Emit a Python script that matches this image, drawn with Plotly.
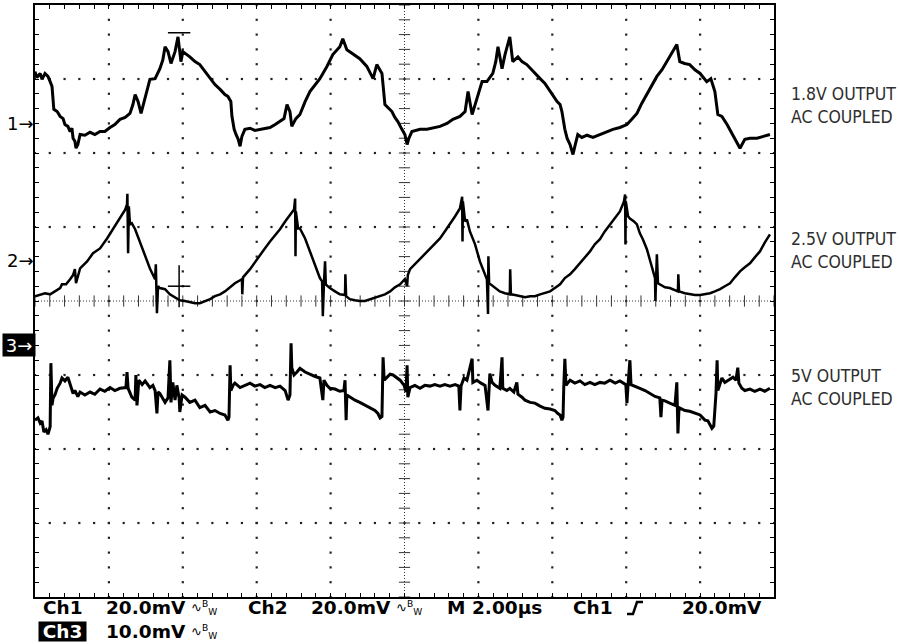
import numpy as np
import plotly.graph_objects as go

# ---- scope settings ----
time_per_div = 2.0          # µs / div, 10 divisions
ch1_scale = 20.0            # mV / div
ch2_scale = 20.0
ch3_scale = 10.0
ch1_pos = 2.40              # ground-marker position, divisions from centre
ch2_pos = 0.55
ch3_pos = -0.60

# ---- channel 1 : 1.8V output (µs, mV) ----
ch1_t = [0.00, 0.05, 0.14, 0.19, 0.27, 0.35, 0.41, 0.46, 0.51, 0.60, 0.68, 0.76, 0.81, 0.89, 0.95, 1.00,
         1.03, 1.08, 1.11, 1.16, 1.22, 1.35, 1.49, 1.62, 1.76, 1.89, 2.03, 2.16, 2.30, 2.44, 2.57, 2.65,
         2.71, 2.79, 2.87, 2.98, 3.06, 3.11, 3.25, 3.38, 3.46, 3.52, 3.60, 3.68, 3.79, 3.87, 3.95, 4.00,
         4.19, 4.33, 4.46, 4.60, 4.74, 4.87, 5.01, 5.14, 5.22, 5.30, 5.33, 5.39, 5.44, 5.50, 5.55, 5.60,
         5.68, 5.82, 5.95, 6.09, 6.22, 6.36, 6.50, 6.63, 6.74, 6.82, 6.90, 6.95, 7.06, 7.17, 7.31, 7.44,
         7.58, 7.71, 7.90, 8.06, 8.25, 8.33, 8.44, 8.60, 8.79, 8.98, 9.15, 9.25, 9.39, 9.47, 9.55, 9.66,
         9.74, 9.82, 9.93, 10.01, 10.07, 10.12, 10.20, 10.42, 10.61, 10.77, 10.96, 11.15, 11.31, 11.50,
         11.64, 11.72, 11.83, 11.96, 12.10, 12.23, 12.39, 12.47, 12.53, 12.64, 12.72, 12.85, 12.93, 13.07,
         13.18, 13.31, 13.48, 13.67, 13.80, 13.94, 14.13, 14.21, 14.26, 14.34, 14.40, 14.48, 14.56, 14.61,
         14.69, 14.80, 14.94, 15.10, 15.29, 15.48, 15.64, 15.83, 16.02, 16.15, 16.29, 16.42, 16.56, 16.69,
         16.83, 16.97, 17.10, 17.26, 17.37, 17.45, 17.58, 17.72, 17.86, 18.00, 18.18, 18.29, 18.40, 18.48,
         18.59, 18.73, 18.83, 18.94, 19.08, 19.21, 19.35, 19.54, 19.70, 19.89]
ch1_mv = [14.0, 12.4, 13.5, 11.9, 13.5, 12.7, 11.3, 10.0, 3.8, 3.2, 1.9, 1.3, -0.3, -0.8, -2.2, -1.3,
          -4.0, -4.8, -6.7, -5.7, -3.0, -3.2, -2.4, -3.0, -2.2, -2.2, -1.1, -0.3, 1.1, 1.6, 2.7, 5.1,
          7.8, 5.9, 2.7, 6.7, 10.0, 11.9, 12.1, 14.8, 17.2, 20.7, 19.4, 16.2, 19.4, 23.4, 16.7, 19.4,
          18.0, 16.7, 15.9, 14.0, 12.1, 10.5, 9.2, 7.8, 7.3, 5.9, 1.9, -1.6, -3.0, -4.3, -6.2, -3.5,
          -1.6, -1.3, -1.9, -1.6, -1.3, -1.1, -0.3, 0.5, 1.3, 5.1, 3.2, -0.8, 1.3, 2.4, 5.9, 8.6,
          10.5, 12.1, 15.4, 18.6, 20.7, 22.9, 19.9, 18.9, 17.5, 15.4, 12.1, 15.9, 13.5, 5.1, 4.3, 3.2,
          1.6, 0.5, -1.6, -3.0, -5.7, -4.0, -2.2, -1.6, -1.6, -1.3, -0.8, 0.0, 1.1, 1.9,
          3.2, 8.6, 2.4, 6.7, 11.3, 11.3, 13.5, 16.7, 20.7, 14.8, 18.6, 23.4, 16.7, 18.0,
          16.7, 15.9, 14.0, 12.1, 10.8, 8.6, 5.9, 5.1, 3.2, -1.6, -4.0, -5.7, -8.4, -6.2,
          -3.0, -3.8, -3.2, -3.8, -3.0, -2.4, -1.6, -1.1, -0.3, 1.1, 2.7, 5.4, 7.8, 10.0,
          12.7, 14.5, 16.7, 19.4, 21.3, 16.7, 16.2, 15.9, 14.5, 13.5, 11.3, 12.1, 8.6, 2.4,
          1.9, -0.3, -2.2, -4.0, -6.7, -4.3, -4.0, -4.0, -3.5, -3.0]

# ---- channel 2 : 2.5V output (µs, mV) ----
ch2_t = [0.00, 0.14, 0.27, 0.41, 0.54, 0.68, 0.73, 0.84, 0.95, 1.03, 1.08, 1.11, 1.22, 1.41, 1.57, 1.76,
         1.95, 2.11, 2.30, 2.44, 2.49, 2.50, 2.52, 2.54, 2.57, 2.62, 2.71, 2.84, 2.98, 3.11, 3.25, 3.27,
         3.30, 3.33, 3.38, 3.52, 3.65, 3.79, 3.92, 4.06, 4.19, 4.33, 4.46, 4.60, 4.74, 4.87, 5.01, 5.14,
         5.28, 5.41, 5.55, 5.60, 5.61, 5.63, 5.82, 5.95, 6.09, 6.22, 6.36, 6.50, 6.63, 6.77, 6.90, 7.01,
         7.04, 7.05, 7.06, 7.12, 7.17, 7.31, 7.44, 7.58, 7.71, 7.77, 7.79, 7.82, 7.85, 7.87, 7.98, 8.12,
         8.25, 8.39, 8.40, 8.42, 8.52, 8.66, 8.79, 8.93, 9.07, 9.20, 9.34, 9.47, 9.61, 9.74, 9.88, 10.01,
         10.07, 10.09, 10.15, 10.28, 10.42, 10.55, 10.69, 10.82, 10.96, 11.09, 11.23, 11.37, 11.50, 11.56,
         11.57, 11.58, 11.64, 11.69, 11.77, 11.91, 12.04, 12.18, 12.23, 12.26, 12.27, 12.29, 12.45, 12.58,
         12.72, 12.85, 12.86, 12.88, 12.99, 13.12, 13.26, 13.40, 13.53, 13.67, 13.80, 13.94, 14.07, 14.21,
         14.34, 14.48, 14.61, 14.75, 14.88, 15.02, 15.15, 15.29, 15.42, 15.56, 15.70, 15.83, 15.94, 15.97,
         15.98, 15.99, 16.05, 16.10, 16.21, 16.29, 16.37, 16.45, 16.56, 16.64, 16.72, 16.78, 16.79, 16.80,
         16.83, 16.86, 16.91, 17.05, 17.18, 17.32, 17.40, 17.41, 17.43, 17.59, 17.72, 17.86, 18.00, 18.13,
         18.27, 18.40, 18.54, 18.67, 18.81, 18.94, 19.08, 19.21, 19.35, 19.48, 19.62, 19.75, 19.89]
ch2_mv = [-9.7, -9.2, -8.9, -9.2, -8.4, -7.5, -6.5, -6.5, -5.1, -4.0, -2.4, -6.2, -2.2, -0.3, 1.9, 3.2,
          5.9, 8.4, 11.3, 13.7, 15.1, 18.0, 1.9, 14.6, 9.7, 10.0, 8.4, 5.1, 1.6, -2.2, -5.1, -1.1,
          -14.3, -7.0, -7.5, -7.8, -9.2, -10.0, -10.8, -11.0, -11.3, -11.6, -11.6, -11.0, -10.5, -9.7, -9.2, -8.4,
          -7.3, -6.2, -5.4, -5.1, -9.2, -4.6, -2.4, -0.5, 1.6, 3.2, 5.1, 6.7, 8.4, 10.5, 12.4, 13.7,
          16.7, 1.1, 13.2, 8.6, 8.6, 5.9, 2.4, -0.8, -4.8, -5.7, -15.1, -6.2, -0.3, -6.5, -7.5, -8.4,
          -9.2, -9.4, -3.8, -9.7, -10.5, -10.8, -11.0, -11.0, -10.5, -10.2, -9.7, -9.2, -8.4, -7.3, -6.5, -5.1,
          -7.0, -4.0, -2.4, -1.1, 0.3, 1.6, 3.0, 4.3, 5.9, 7.8, 9.7, 11.9, 14.0, 17.2,
          5.1, 15.9, 10.5, 11.0, 7.8, 4.3, -0.3, -3.8, -5.1, -14.5, 1.1, -6.2, -7.5, -8.4,
          -8.9, -9.2, -2.4, -9.2, -9.4, -9.7, -10.0, -9.7, -9.7, -9.2, -8.9, -8.4, -7.5, -6.5,
          -4.8, -3.8, -2.4, -0.8, 0.5, 2.4, 4.3, 5.7, 7.8, 9.7, 11.3, 13.2, 15.9, 17.8,
          4.3, 15.9, 11.9, 11.3, 10.5, 9.7, 7.3, 5.7, 3.0, 0.3, -2.4, -4.8, -11.0, -5.7,
          1.6, -6.2, -6.5, -7.3, -7.5, -8.1, -8.4, -3.8, -8.4, -8.9, -9.2, -9.4, -9.4, -9.2,
          -8.9, -8.4, -7.8, -7.0, -6.2, -4.6, -3.0, -1.9, -0.8, 0.8, 2.4, 4.8, 7.0]

# ---- channel 3 : 5V output (µs, mV) ----
ch3_t = [0.00, 0.08, 0.14, 0.19, 0.24, 0.30, 0.35, 0.41, 0.43, 0.46, 0.49, 0.54, 0.60, 0.68, 0.73, 0.81,
         0.89, 0.95, 1.03, 1.08, 1.16, 1.22, 1.35, 1.49, 1.62, 1.76, 1.89, 2.03, 2.16, 2.30, 2.46, 2.49,
         2.52, 2.62, 2.71, 2.73, 2.76, 2.81, 2.90, 2.98, 3.11, 3.19, 3.25, 3.30, 3.33, 3.38, 3.52, 3.60,
         3.65, 3.68, 3.73, 3.79, 3.84, 3.90, 3.92, 3.98, 4.06, 4.19, 4.33, 4.46, 4.60, 4.74, 4.87, 5.01,
         5.14, 5.22, 5.25, 5.28, 5.30, 5.36, 5.41, 5.55, 5.68, 5.82, 5.95, 6.09, 6.22, 6.36, 6.50, 6.63,
         6.77, 6.85, 6.90, 6.93, 6.95, 7.01, 7.09, 7.17, 7.31, 7.44, 7.58, 7.71, 7.79, 7.82, 7.90, 7.98,
         8.12, 8.25, 8.36, 8.39, 8.42, 8.44, 8.52, 8.66, 8.79, 8.93, 9.07, 9.20, 9.28, 9.34, 9.39, 9.42,
         9.45, 9.53, 9.61, 9.69, 9.80, 9.88, 9.99, 10.04, 10.07, 10.09, 10.15, 10.28, 10.42, 10.55, 10.69,
         10.82, 10.96, 11.09, 11.23, 11.37, 11.47, 11.50, 11.53, 11.61, 11.69, 11.83, 11.85, 11.96, 12.07,
         12.18, 12.26, 12.29, 12.31, 12.37, 12.45, 12.58, 12.64, 12.66, 12.77, 12.85, 12.96, 13.04, 13.07,
         13.18, 13.26, 13.40, 13.53, 13.67, 13.80, 13.94, 14.07, 14.15, 14.21, 14.26, 14.29, 14.31, 14.34,
         14.37, 14.48, 14.61, 14.75, 14.88, 15.02, 15.15, 15.29, 15.42, 15.56, 15.70, 15.83, 15.99, 16.02,
         16.05, 16.10, 16.13, 16.24, 16.37, 16.51, 16.64, 16.78, 16.91, 16.94, 16.97, 17.05, 17.18, 17.32,
         17.37, 17.40, 17.43, 17.59, 17.72, 17.86, 18.00, 18.13, 18.21, 18.32, 18.37, 18.43, 18.46, 18.48,
         18.59, 18.67, 18.75, 18.89, 18.97, 19.02, 19.05, 19.13, 19.21, 19.35, 19.48, 19.62, 19.75, 19.89]
ch3_mv = [-10.1, -9.8, -10.5, -10.2, -11.7, -11.4, -12.0, -11.0, -2.4, -8.1, -7.1, -6.7, -5.8, -5.1, -4.4, -4.8,
          -4.3, -5.3, -6.5, -6.1, -6.9, -6.3, -6.7, -6.3, -6.6, -5.9, -6.2, -5.7, -6.1, -5.8, -5.7, -3.6,
          -5.8, -7.0, -7.4, -4.0, -8.1, -4.7, -5.3, -4.8, -5.7, -5.4, -6.1, -9.2, -6.3, -6.5, -7.7, -7.1,
          -2.0, -7.7, -5.0, -7.4, -5.4, -7.1, -9.0, -6.7, -7.0, -7.7, -7.4, -8.4, -8.1, -9.0, -8.8, -9.2,
          -9.4, -10.1, -9.7, -2.7, -6.1, -5.4, -5.1, -5.7, -5.4, -5.1, -5.5, -5.3, -5.7, -5.4, -5.7, -5.5,
          -6.1, -7.4, -6.7, 0.3, -3.0, -4.0, -3.6, -3.1, -3.6, -3.9, -4.2, -4.4, -7.4, -4.7, -5.4, -5.8,
          -5.9, -6.2, -6.1, -4.7, -10.1, -6.7, -7.0, -7.4, -7.7, -8.1, -8.4, -8.8, -9.2, -9.8, -9.6, -1.6,
          -4.7, -4.3, -3.9, -4.0, -4.4, -4.7, -5.4, -6.3, -2.7, -7.0, -5.7, -5.4, -5.8, -5.4, -5.5,
          -5.3, -5.5, -5.3, -5.5, -5.3, -5.5, -8.8, -5.5, -4.4, -4.7, -1.8, -5.0, -4.7, -5.1,
          -5.4, -8.8, -5.1, -3.8, -5.0, -5.4, -5.8, -1.6, -5.8, -6.1, -5.8, -6.3, -5.0, -6.6,
          -7.0, -7.4, -7.7, -7.8, -8.2, -8.5, -8.6, -8.8, -9.2, -9.4, -10.1, -9.7, -5.7, -1.8,
          -5.4, -4.7, -5.1, -4.8, -5.3, -5.0, -5.3, -5.0, -5.1, -4.7, -5.1, -4.8, -5.3, -7.8,
          -5.3, -2.0, -5.3, -5.5, -5.8, -6.1, -6.5, -6.9, -7.1, -9.7, -7.4, -7.5, -7.8, -8.1,
          -5.0, -11.9, -8.4, -8.8, -8.9, -9.2, -9.4, -10.1, -10.2, -11.2, -10.9, -6.5, -2.0, -6.1,
          -4.4, -5.0, -4.7, -4.3, -4.7, -3.0, -5.1, -5.8, -6.1, -5.9, -6.2, -5.9, -6.2, -5.8]

# cursor positions (µs, mV)
cursor_t = 3.90
cursor1_mv = 24.5
cursor2_mv = -7.0

labels = ["1.8V OUTPUT<br>AC COUPLED", "2.5V OUTPUT<br>AC COUPLED", "5V OUTPUT<br>AC COUPLED"]

# ---- figure ----
W, H = 900, 644
L, R, T, B = 35, 126, 3, 47
x_max = 10 * time_per_div

def to_div(mv, pos, scale):
    return pos + np.asarray(mv) / scale

fig = go.Figure()

# graticule dots
minor_x = np.arange(0, x_max + 1e-9, time_per_div / 5)
minor_y = np.arange(-4, 4 + 1e-9, 0.2)
major_x = [k * time_per_div for k in range(1, 10) if k != 5]
major_y = [-3, -2, -1, 1, 2, 3]
gx = np.concatenate([np.tile(minor_x, len(major_y)), np.repeat(major_x, len(minor_y))])
gy = np.concatenate([np.repeat(major_y, len(minor_x)), np.tile(minor_y, len(major_x))])
fig.add_trace(go.Scatter(x=gx, y=gy, mode="markers", hoverinfo="skip", showlegend=False,
                         marker=dict(symbol="square", size=2.2, color="#222222", line=dict(width=0))))
# centre cross ticks
fig.add_trace(go.Scatter(x=minor_x, y=np.zeros_like(minor_x), mode="markers", hoverinfo="skip", showlegend=False,
                         marker=dict(symbol="line-ns", size=8, line=dict(width=1, color="#333333"))))
fig.add_trace(go.Scatter(x=np.full_like(minor_y, 5 * time_per_div), y=minor_y, mode="markers", hoverinfo="skip",
                         showlegend=False,
                         marker=dict(symbol="line-ew", size=8, line=dict(width=1, color="#333333"))))
fig.add_shape(type="line", xref="x", yref="y", x0=5 * time_per_div, x1=5 * time_per_div, y0=-4, y1=4,
              line=dict(color="#333333", width=1, dash="1px,2px"), layer="below")
fig.add_shape(type="line", xref="x", yref="y", x0=0, x1=x_max, y0=0, y1=0,
              line=dict(color="#333333", width=1, dash="1px,2px"), layer="below")

# waveforms
fig.add_trace(go.Scatter(x=ch1_t, y=to_div(ch1_mv, ch1_pos, ch1_scale), mode="lines", showlegend=False,
                         line=dict(color="black", width=3)))
fig.add_trace(go.Scatter(x=ch2_t, y=to_div(ch2_mv, ch2_pos, ch2_scale), mode="lines", showlegend=False,
                         line=dict(color="black", width=2.5)))
fig.add_trace(go.Scatter(x=ch3_t, y=to_div(ch3_mv, ch3_pos, ch3_scale), mode="lines", showlegend=False,
                         line=dict(color="black", width=3)))

# cursors
fig.add_trace(go.Scatter(x=[cursor_t, cursor_t], y=[to_div(cursor1_mv, ch1_pos, ch1_scale),
                                                     to_div(cursor2_mv, ch2_pos, ch2_scale)],
                         mode="markers", hoverinfo="skip", showlegend=False,
                         marker=dict(symbol="line-ew", size=16, line=dict(width=1.5, color="black"))))
fig.add_trace(go.Scatter(x=[cursor_t], y=[to_div(cursor2_mv, ch2_pos, ch2_scale)],
                         mode="markers", hoverinfo="skip", showlegend=False,
                         marker=dict(symbol="line-ns", size=30, line=dict(width=1.5, color="black"))))

fig.update_xaxes(range=[0, x_max], showgrid=False, zeroline=False, showticklabels=False,
                 ticks="inside", tick0=0, dtick=time_per_div / 5, ticklen=4, tickwidth=1, tickcolor="black",
                 showline=True, linewidth=2, linecolor="black", mirror="ticks")
fig.update_yaxes(range=[-4, 4], showgrid=False, zeroline=False, showticklabels=False,
                 ticks="inside", tick0=0, dtick=0.2, ticklen=4, tickwidth=1, tickcolor="black",
                 showline=True, linewidth=2, linecolor="black", mirror="ticks")

def px_x(px):
    return (px - L) / (W - L - R)

def px_y(py):
    return (H - B - py) / (H - T - B)

ann = []
# channel ground markers
for txt, pos in (("1→", ch1_pos), ("2→", ch2_pos)):
    ann.append(dict(x=px_x(36), y=pos, xref="paper", yref="y", text=txt, showarrow=False,
                    xanchor="right", yanchor="middle",
                    font=dict(family="DejaVu Sans", size=18, color="black")))
ann.append(dict(x=px_x(19), y=ch3_pos, xref="paper", yref="y", text="3→", showarrow=False,
                xanchor="center", yanchor="middle", width=32, height=22, bgcolor="black", borderpad=0,
                font=dict(family="DejaVu Sans", size=18, color="white")))

# right side labels
label_mid = [104, 249, 387]
narrow = "DejaVu Sans Condensed, Liberation Sans Narrow, sans-serif"
for txt, yy in zip(labels, label_mid):
    ann.append(dict(x=px_x(789), y=px_y(yy), xref="paper", yref="paper", text=txt, showarrow=False,
                    xanchor="left", yanchor="middle", align="left",
                    font=dict(family=narrow, size=17.5, color="#2e2e2e")))

# status line
mono = dict(family="DejaVu Sans", size=18.5, color="black", weight="bold")
bw = "∿<sup>B</sup><sub>W</sub>"
status = [("Ch1", 41, 608), ("20.0mV", 104, 608), ("Ch2", 246, 608), ("20.0mV", 309, 608),
          ("M", 445, 608), ("2.00µs", 470, 608), ("Ch1", 571, 608), ("20.0mV", 680, 608),
          ("10.0mV", 104, 632)]
for txt, xx, yy in status:
    ann.append(dict(x=px_x(xx), y=px_y(yy), xref="paper", yref="paper", text=txt, showarrow=False,
                    xanchor="left", yanchor="middle", font=mono))
for xx, yy in ((189, 608), (394, 608), (189, 632)):
    ann.append(dict(x=px_x(xx), y=px_y(yy), xref="paper", yref="paper", text=bw, showarrow=False,
                    xanchor="left", yanchor="middle",
                    font=dict(family="DejaVu Sans", size=13, color="black")))
ann.append(dict(x=px_x(62), y=px_y(632), xref="paper", yref="paper", text="Ch3", showarrow=False,
                xanchor="center", yanchor="middle", width=47, height=19, bgcolor="black", borderpad=0,
                font=dict(family="DejaVu Sans", size=18.5, color="white", weight="bold")))

# trigger slope glyph
tx = [px_x(v) for v in (627, 633, 637, 643)]
ty = [px_y(v) for v in (614, 602)]
fig.add_shape(type="path", xref="paper", yref="paper",
              path=f"M {tx[0]} {ty[0]} L {tx[1]} {ty[0]} L {tx[2]} {ty[1]} L {tx[3]} {ty[1]}",
              line=dict(color="black", width=2.5))

fig.update_layout(width=W, height=H, margin=dict(l=L, r=R, t=T, b=B, pad=0),
                  paper_bgcolor="white", plot_bgcolor="white", annotations=ann, showlegend=False)

fig.write_html("out.html", config={"displayModeBar": False},
               post_script="document.body.style.margin='0px';")
